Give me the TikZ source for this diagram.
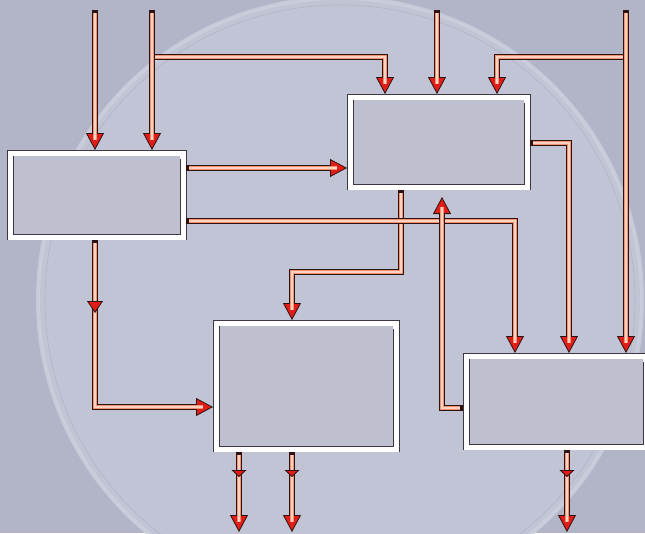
\documentclass[tikz,border=0pt]{standalone}
\usetikzlibrary{arrows.meta,decorations.markings}
\definecolor{bgout}{HTML}{B2B5C8}
\definecolor{bgin}{HTML}{C1C4D4}
\definecolor{rim}{HTML}{CDD0DD}
\definecolor{boxfill}{HTML}{BEC0D0}
\definecolor{boxline}{HTML}{3E3642}
\definecolor{pipedark}{HTML}{2E1211}
\definecolor{pipesalmon}{HTML}{F2906F}
\definecolor{pipelight}{HTML}{FCD2C0}
\definecolor{headred}{HTML}{E01D18}
\tikzset{
  panel/.style={fill=white, draw=none, outer sep=0pt, inner sep=0pt},
  panelline/.style={draw=boxline, line width=0.7pt},
  panelinner/.style={draw=boxline, line width=0.9pt, fill=boxfill},
  pipe/.style={line width=6.5pt, draw=pipedark, line join=miter,
    -{Triangle[width=18pt,length=17pt,line width=0.8pt,fill=headred]},
    postaction={draw=pipesalmon, line width=4pt, arrows=-, shorten <=3pt, shorten >=10pt},
    postaction={draw=pipelight, line width=1.1pt, arrows=-, shorten <=3pt, shorten >=10pt}},
  midhead/.style n args={3}{postaction={arrows=-, decorate, decoration={markings,
    mark=at position #1 with {\arrow{Triangle[width=#2,length=#3,line width=0.8pt,color=pipedark,fill=headred]}}}}}
}
\begin{document}
\begin{tikzpicture}[x=1pt,y=-1pt]
\useasboundingbox (0,0) rectangle (645,533);
% background
\fill[bgout] (0,0) rectangle (645,533);
\begin{scope}
\clip (0,0) rectangle (645,533);
\fill[bgin] (340,300) circle (302);
\draw[rim, line width=4pt, opacity=0.8] (340,300) circle (302);
\draw[bgout!85!black, line width=0.6pt, opacity=0.35] (340,300) circle (295);
\end{scope}

% boxes
\node[panel, minimum width=179, minimum height=90] (A) at (96.5,195) {};
\node[panel, minimum width=183, minimum height=96] (B) at (438.5,142) {};
\node[panel, minimum width=186, minimum height=132] (C) at (306,386) {};
\node[panel, minimum width=186, minimum height=97] (D) at (556,401.5) {};
\foreach \b in {A,B,C,D}{
  \draw[panelline] (\b.south west) -- (\b.north west) -- (\b.north east) -- (\b.south east);
  \fill[boxfill] ([shift={(6,6)}]\b.north west) rectangle ([shift={(-6,-6)}]\b.south east);
  \draw[panelinner, fill=none] ([shift={(6,6)}]\b.north west) |- ([shift={(-6,-6)}]\b.south east) -- ([shift={(-6,9)}]\b.north east);
}

% free ends
\coordinate (i1) at (95,10);
\coordinate (i2) at (152,10);
\coordinate (i3) at (437,10);
\coordinate (i4) at (626,10);
\coordinate (j2) at (152,57);
\coordinate (j4) at (626,57);
\coordinate (o1) at (239,532);
\coordinate (o2) at (292,532);
\coordinate (o3) at (567,532);

% branches first
\draw[pipe] (j2) -| ([shift={(-53.5,0)}]B.north);
\draw[pipe] (j4) -| ([shift={(58.5,0)}]B.north);
% inputs
\draw[pipe] (i1) -- (i1 |- A.north);
\draw[pipe] (i2) -- (i2 |- A.north);
\draw[pipe] (i3) -- (i3 |- B.north);
\draw[pipe] (i4) -- (i4 |- D.north);
% internal flows
\draw[pipe] ([shift={(0,-27)}]A.east) -- ([shift={(0,-27)}]A.east -| B.west);
\draw[pipe] ([shift={(-37.5,0)}]B.south) -- ++(0,82) -| ([shift={(-14,0)}]C.north);
\draw[pipe] ([shift={(0,26)}]A.east) -| ([shift={(-41,0)}]D.north);
\draw[pipe] ([shift={(0,1)}]B.east) -| ([shift={(13,0)}]D.north);
\draw[pipe] ([shift={(0,6.5)}]D.west) -- ++(-21,0) -- ([shift={(3.5,7)}]B.south);
\draw[pipe, midhead={73pt}{16pt}{12pt}] ([shift={(-1.5,0)}]A.south) |- ([shift={(0,21)}]C.west);
% outputs
\draw[pipe, midhead={25pt}{15pt}{7pt}] (o1 |- C.south) -- (o1);
\draw[pipe, midhead={25pt}{15pt}{7pt}] (o2 |- C.south) -- (o2);
\draw[pipe, midhead={27pt}{15pt}{7pt}] (o3 |- D.south) -- (o3);
\end{tikzpicture}
\end{document}
